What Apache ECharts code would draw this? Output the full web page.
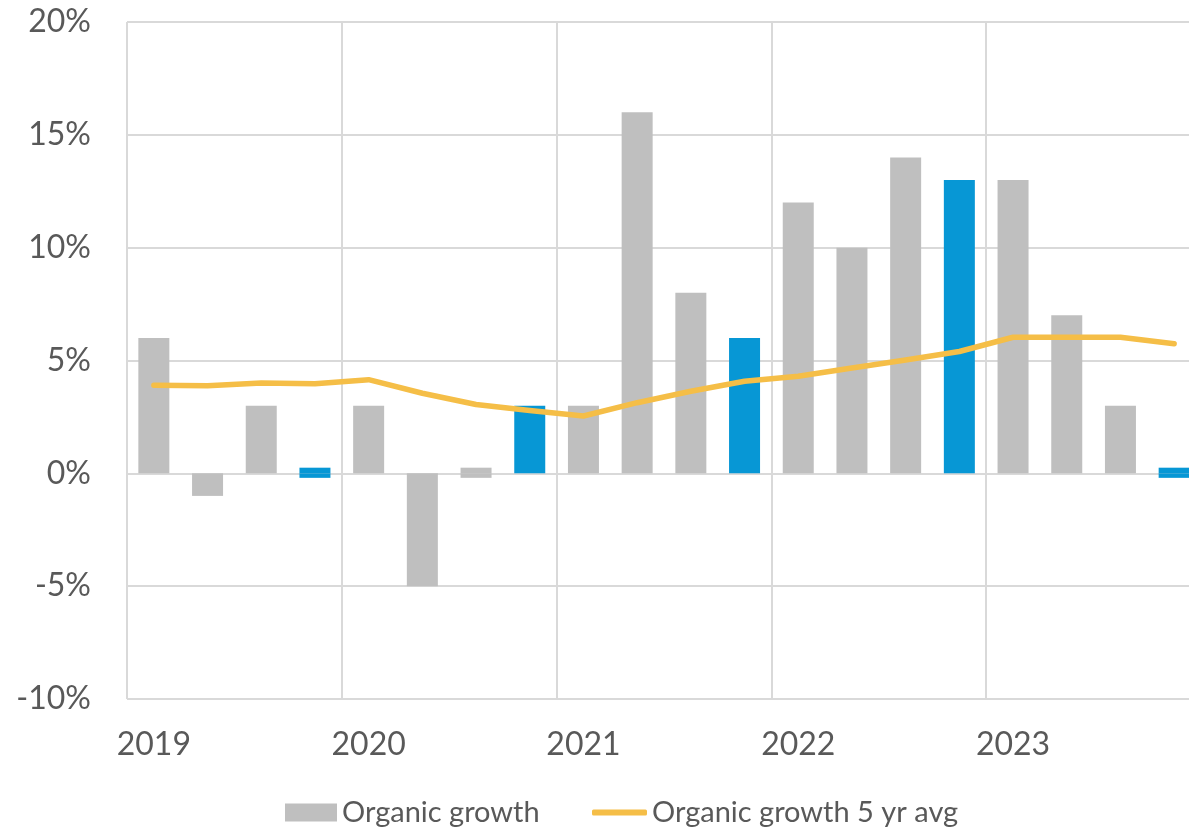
<!DOCTYPE html>
<html>
<head>
<meta charset="utf-8">
<script src="https://cdn.jsdelivr.net/npm/echarts@6/dist/echarts.min.js"></script>
<style>
  html, body { margin: 0; padding: 0; background: #ffffff; width: 1189px; height: 830px; overflow: hidden; }
  /* the chart canvas runs slightly past the right edge of the page */
  #chart { width: 1201px; height: 830px; }
</style>
</head>
<body>
<div id="chart"></div>
<script>
// Quarterly organic growth (%), 2019 Q1 .. 2023 Q4
const quarters = [
  '2019 Q1', '2019 Q2', '2019 Q3', '2019 Q4',
  '2020 Q1', '2020 Q2', '2020 Q3', '2020 Q4',
  '2021 Q1', '2021 Q2', '2021 Q3', '2021 Q4',
  '2022 Q1', '2022 Q2', '2022 Q3', '2022 Q4',
  '2023 Q1', '2023 Q2', '2023 Q3', '2023 Q4'
];
const yearLabels = ['2019', '2020', '2021', '2022', '2023'];

// Organic growth: upper part of each bar (from zero)
const organicGrowth = [
  6, -1, 3, 0.25,
  3, -5, 0.25, 3,
  3, 16, 8, 6,
  12, 10, 14, 13,
  13, 7, 3, 0.25
];
// Small sub-zero part of the near-flat quarters
const organicGrowthBelow = [
  0, 0, 0, -0.2,
  0, 0, -0.2, 0,
  0, 0, 0, 0,
  0, 0, 0, 0,
  0, 0, 0, -0.2
];
// Rolling 5-year average of organic growth
const organicGrowthAvg = [
  3.9, 3.88, 4.0, 3.97,
  4.15, 3.55, 3.05, 2.78,
  2.54, 3.13, 3.64, 4.08,
  4.3, 4.67, 5.02, 5.4,
  6.03, 6.03, 6.03, 5.74
];
const yTicks = { min: -10, max: 20, step: 5 };

const GRAY = '#BFBFBF';
const BLUE = '#0797D5';
const GOLD = '#F5BE47';
const TEXT = '#595959';
const GRID = '#D9D9D9';
const FONT = 'Lato';

const barColor = p => (p.dataIndex % 4 === 3 ? BLUE : GRAY);
const legendText = { fontFamily: FONT, fontSize: 29, color: TEXT };

const chart = echarts.init(document.getElementById('chart'), null, { renderer: 'canvas' });
chart.setOption({
  animation: false,
  backgroundColor: '#ffffff',
  textStyle: { fontFamily: FONT },
  grid: { left: 127, right: 0, top: 22, bottom: 131, containLabel: false },
  legend: [
    {
      left: 280,
      top: 793,
      itemWidth: 52,
      itemHeight: 18,
      textStyle: legendText,
      data: [{ name: 'Organic growth', icon: 'rect', itemStyle: { color: GRAY } }]
    },
    {
      left: 587,
      top: 793,
      itemWidth: 55,
      itemHeight: 6,
      textStyle: legendText,
      data: [{ name: 'Organic growth 5 yr avg', icon: 'roundRect', itemStyle: { color: GOLD } }]
    }
  ],
  xAxis: {
    type: 'category',
    data: quarters,
    boundaryGap: true,
    axisLine: { show: false },
    axisTick: { show: false },
    axisLabel: {
      interval: i => i % 4 === 0,
      formatter: (v, i) => yearLabels[Math.floor(i / 4)],
      fontFamily: FONT,
      fontSize: 32,
      color: TEXT,
      margin: 30
    },
    splitLine: {
      show: true,
      interval: i => i % 4 === 0,
      lineStyle: { color: GRID, width: 2 }
    }
  },
  yAxis: {
    type: 'value',
    min: yTicks.min,
    max: yTicks.max,
    interval: yTicks.step,
    axisLine: { show: false },
    axisTick: { show: false },
    axisLabel: {
      formatter: v => v + '%',
      fontFamily: FONT,
      fontSize: 32,
      color: TEXT,
      margin: 36
    },
    splitLine: { lineStyle: { color: GRID, width: 2 } }
  },
  series: [
    {
      name: 'Organic growth',
      type: 'bar',
      stack: 'growth',
      barWidth: 31,
      data: organicGrowth,
      itemStyle: { color: barColor },
      z: 2
    },
    {
      name: 'Organic growth below',
      type: 'bar',
      stack: 'growth',
      barWidth: 31,
      data: organicGrowthBelow,
      itemStyle: { color: barColor },
      z: 2
    },
    {
      name: 'Organic growth 5 yr avg',
      type: 'line',
      data: organicGrowthAvg,
      symbol: 'none',
      color: GOLD,
      lineStyle: { color: GOLD, width: 5.5, cap: 'round', join: 'round' },
      z: 3
    }
  ]
});
</script>
</body>
</html>
